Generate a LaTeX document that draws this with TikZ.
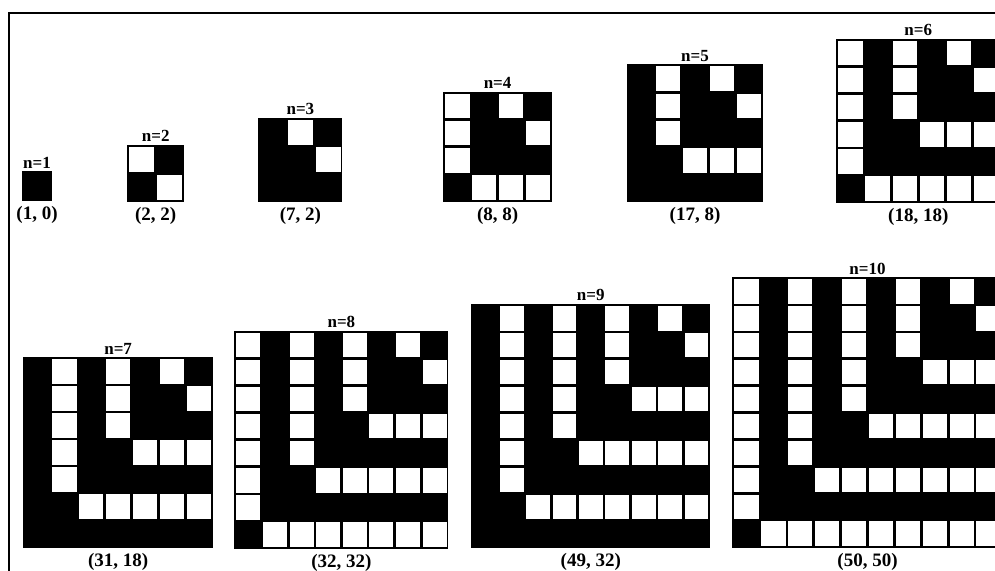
\documentclass[tikz,border=0pt]{standalone}
\usepackage{fontspec}
\setmainfont{Liberation Serif}
\tikzset{
  nlab/.style={font=\fontsize{17}{17}\selectfont\bfseries, inner sep=0pt, anchor=base},
  clab/.style={font=\fontsize{19}{19}\selectfont\bfseries, inner sep=0pt, anchor=base},
  gridbox/.style={fill=black, draw=black, line width=1.2pt},
  whitecell/.style={fill=white},
  frameline/.style={line width=1.5pt, draw=black}
}
% #1 n, #2 left, #3 bottom, #4 cell width, #5 cell height, #6 coordinate label
\newcommand{\lgrid}[6]{%
  \pgfmathsetmacro\gx{#2}%
  \pgfmathsetmacro\gb{#3}%
  \pgfmathsetmacro\gt{#3-#1*#5}%
  \pgfmathsetmacro\gr{#2+#1*#4}%
  \pgfmathtruncatemacro\nm{#1-1}%
  \fill[gridbox] (\gx,\gt) rectangle (\gr,\gb);
  \foreach \ri in {0,...,\nm}{\foreach \ci in {0,...,\nm}{%
    \pgfmathtruncatemacro\wc{(mod(\nm-min(\ci,\nm-\ri),2)==1)&&(\ci!=\nm-\ri)}%
    \ifnum\wc=1
      \fill[whitecell] (\gx+\ci*#4+1.3, \gt+\ri*#5+1.3) rectangle (\gx+\ci*#4+#4-1.3, \gt+\ri*#5+#5-1.3);
    \fi
  }}
  \node[nlab] (n#1) at ({(\gx+\gr)/2}, \gt-4) {n=#1};
  \node[clab] (p#1) at ({(\gx+\gr)/2}, \gb+19) {#6};
}
\begin{document}
\begin{tikzpicture}[x=1pt,y=-1pt]
  \useasboundingbox (0,0) rectangle (995,570);
  \clip (0,0) rectangle (995,570);
  \fill[white] (0,0) rectangle (995,570);
  \draw[frameline] (9,571) -- (9,13) -- (996,13);
  \lgrid{1}{23}{200}{28}{28}{(1, 0)}
  \lgrid{2}{128}{201}{27.7}{27.7}{(2, 2)}
  \lgrid{3}{259}{201}{27.6}{27.5}{(7, 2)}
  \lgrid{4}{444}{201}{26.8}{27.2}{(8, 8)}
  \lgrid{5}{628}{201}{26.8}{27.2}{(17, 8)}
  \lgrid{6}{837}{202}{27.1}{27.1}{(18, 18)}
  \lgrid{7}{24}{547}{26.9}{27}{(31, 18)}
  \lgrid{8}{235}{548}{26.6}{27.1}{(32, 32)}
  \lgrid{9}{472}{547}{26.4}{26.9}{(49, 32)}
  \lgrid{10}{733}{547}{26.9}{26.9}{(50, 50)}
\end{tikzpicture}
\end{document}
